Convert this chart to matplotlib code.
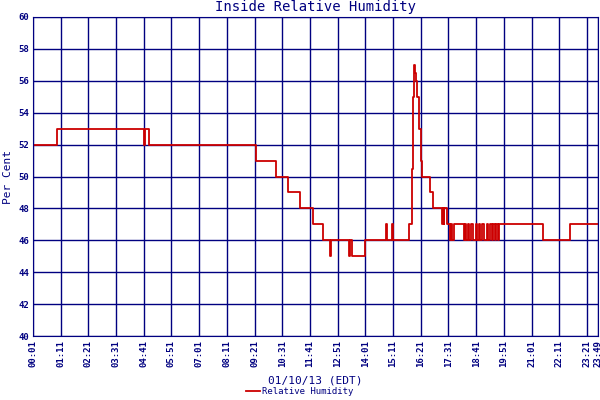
import matplotlib
matplotlib.use("Agg")
import matplotlib.pyplot as plt

# minutes since midnight, humidity (%), step-wise
minutes = [1, 62, 282, 285, 290, 294, 565, 615, 645, 676, 709, 734, 752, 754, 800, 803, 806, 810, 840,
           893, 895, 908, 910, 951, 958, 961, 963, 966, 968, 972, 976, 982, 984, 1004, 1012,
           1035, 1037, 1039, 1041, 1047, 1053, 1056, 1058, 1060, 1064,
           1090, 1093, 1096, 1100, 1104, 1108, 1112, 1116, 1120, 1124, 1128, 1132, 1136, 1140, 1144, 1148,
           1152, 1156, 1160, 1164, 1168, 1172, 1176, 1180, 1192, 1290, 1358, 1429]
values = [52, 53, 52, 53, 53, 52, 51, 50, 49, 48, 47, 46, 45, 46, 45, 46, 45, 45, 46,
          47, 46, 47, 46, 47, 50.5, 55, 57, 56.5, 56, 55, 53, 51, 50, 49, 48,
          47, 48, 47, 48, 47, 47, 46, 47, 46, 47,
          46, 47, 46, 47, 46, 47, 46, 46, 47, 46, 47, 46, 47, 46, 46, 47,
          46, 47, 46, 47, 46, 47, 46, 47, 47, 46, 47, 47]
tick_labels = ["00:01", "01:11", "02:21", "03:31", "04:41", "05:51", "07:01", "08:11", "09:21",
               "10:31", "11:41", "12:51", "14:01", "15:11", "16:21", "17:31", "18:41", "19:51",
               "21:01", "22:11", "23:21", "23:49"]

navy = "#000080"
plt.rcParams['font.family'] = ['DejaVu Sans Mono']
fig = plt.figure(figsize=(6, 4), dpi=100)
ax = fig.add_axes([33/600, 64/400, 565/600, 319/400])
ax.plot(minutes, values, color="#cc0000", lw=1.3, drawstyle="steps-post", label="Relative Humidity")
ax.set_xlim(1, 1429)
ax.set_ylim(40, 60)
ticks = [1 + 70*i for i in range(21)] + [1429]
ax.set_xticks(ticks)
ax.set_xticklabels(tick_labels, rotation=90, fontsize=6.5, color=navy, fontweight="bold")
ax.set_yticks(range(40, 61, 2))
ax.set_yticklabels([str(v) for v in range(40, 61, 2)], fontsize=6.5, color=navy, fontweight="bold")
ax.grid(True, color=navy, lw=1)
ax.tick_params(colors=navy, length=0, pad=3)
for s in ax.spines.values():
    s.set_color(navy)
ax.set_title("Inside Relative Humidity", color=navy, fontsize=10, pad=4)
ax.set_ylabel("Per Cent", color=navy, fontsize=8)
ax.set_xlabel("01/10/13 (EDT)", color=navy, fontsize=8, labelpad=6)
fig.legend(loc="lower center", bbox_to_anchor=(0.5, -0.01), frameon=False, fontsize=6.5,
           labelcolor=navy, handlelength=1.5, handletextpad=0.3)
fig.savefig("out.png", dpi=100)
